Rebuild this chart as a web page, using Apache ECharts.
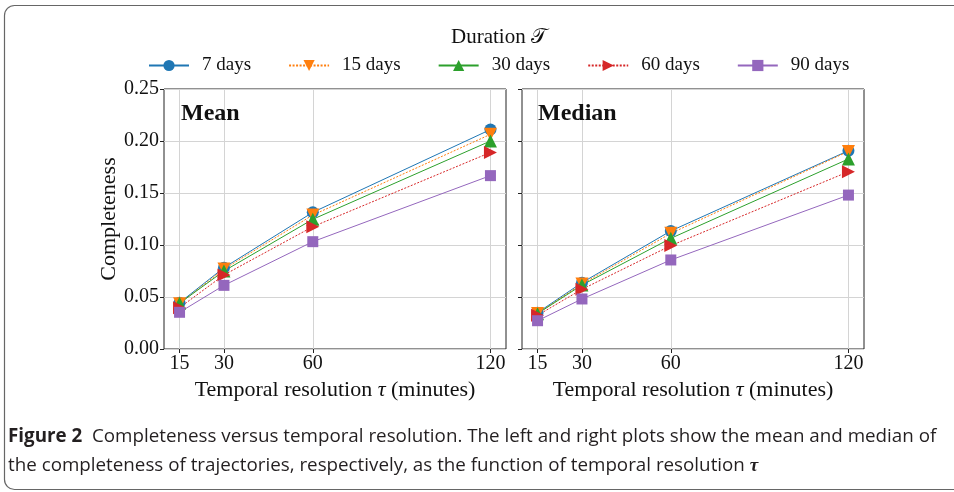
<!DOCTYPE html>
<html lang="en">
<head>
  <meta charset="UTF-8">
  <title>Completeness vs temporal resolution</title>
  <script src="https://cdn.jsdelivr.net/npm/echarts@6/dist/echarts.min.js"></script>
  <style>
    html, body { margin: 0; padding: 0; background: #fff; }
    #chart { width: 954px; height: 492px; }
  </style>
</head>
<body>
<div id="chart"></div>
<script>
  // x values (minutes) and legend names
  const tau = [15, 30, 60, 120];
  const durations = ['7 days', '15 days', '30 days', '60 days', '90 days'];

  // mean completeness, one array per duration
  const mean7 = [0.0445, 0.0782, 0.1314, 0.2110];
  const mean15 = [0.0436, 0.0769, 0.1288, 0.2064];
  const mean30 = [0.0440, 0.0750, 0.1247, 0.2000];
  const mean60 = [0.0397, 0.0712, 0.1176, 0.1890];
  const mean90 = [0.0353, 0.0612, 0.1032, 0.1667];

  // median completeness
  const median7 = [0.0349, 0.0638, 0.1135, 0.1907];
  const median15 = [0.0342, 0.0625, 0.1112, 0.1900];
  const median30 = [0.0340, 0.0615, 0.1064, 0.1827];
  const median60 = [0.0324, 0.0574, 0.0994, 0.1705];
  const median90 = [0.0272, 0.0481, 0.0856, 0.1480];

  const serif = '"Liberation Serif", "DejaVu Serif", serif';
  const sans = '"Open Sans", "Noto Sans", sans-serif';
  const colors = ['#1f77b4', '#ff7f0e', '#2ca02c', '#d62728', '#9467bd'];
  const symbols = ['circle', 'triangle', 'triangle', 'triangle', 'rect'];
  const rotates = [0, 180, 0, -90, 0];
  const lineTypes = ['solid', [2, 1.5], 'solid', [2, 1.5], 'solid'];

  const meanData = [mean7, mean15, mean30, mean60, mean90];
  const medianData = [median7, median15, median30, median60, median90];

  function makeSeries(arr, gi) {
    return arr.map((vals, i) => ({
      name: durations[i],
      type: 'line',
      xAxisIndex: gi,
      yAxisIndex: gi,
      data: tau.map((t, k) => [t, vals[k]]),
      symbol: symbols[i],
      symbolSize: i === 0 ? 12 : (i === 4 ? 11 : 13),
      symbolRotate: rotates[i],
      showAllSymbol: true,
      itemStyle: { color: colors[i] },
      lineStyle: { color: colors[i], width: 1, type: lineTypes[i] },
      emphasis: { disabled: true },
      animation: false
    }));
  }

  function xAxisOf(gi) {
    return {
      type: 'value',
      gridIndex: gi,
      min: 9.75,
      max: 125.25,
      name: 'Temporal resolution {i|τ} (minutes)',
      nameLocation: 'middle',
      nameGap: 24,
      nameTextStyle: {
        fontFamily: serif, fontSize: 22, color: '#111',
        rich: { i: { fontFamily: serif, fontStyle: 'italic', fontSize: 22, color: '#111' } }
      },
      axisLine: { show: false },
      axisTick: { show: true, customValues: tau, length: 4, lineStyle: { color: '#222' } },
      axisLabel: { customValues: tau, fontFamily: serif, fontSize: 20, color: '#111', margin: 5 },
      splitLine: { show: true, lineStyle: { color: '#d4d4d4', width: 1 } }
    };
  }

  function yAxisOf(gi) {
    return {
      type: 'value',
      gridIndex: gi,
      min: 0,
      max: 0.25,
      interval: 0.05,
      name: gi === 0 ? 'Completeness' : '',
      nameLocation: 'middle',
      nameGap: 37,
      nameTextStyle: { fontFamily: serif, fontSize: 22, color: '#111' },
      axisLine: { show: false },
      axisTick: { show: true, length: 4, lineStyle: { color: '#222' } },
      axisLabel: {
        show: gi === 0,
        fontFamily: serif, fontSize: 20, color: '#111', margin: 5,
        formatter: v => v.toFixed(2)
      },
      splitLine: { show: true, lineStyle: { color: '#d4d4d4', width: 1 } }
    };
  }

  const chart = echarts.init(document.getElementById('chart'));
  chart.setOption({
    animation: false,
    grid: [
      { left: 164, top: 89, width: 342, height: 260, show: true, borderColor: '#222', borderWidth: 1, backgroundColor: 'transparent' },
      { left: 522, top: 89, width: 342, height: 260, show: true, borderColor: '#222', borderWidth: 1, backgroundColor: 'transparent' }
    ],
    title: [
      { text: 'Mean', left: 181, top: 102, padding: 0, textStyle: { fontFamily: serif, fontWeight: 'bold', fontSize: 24, color: '#111' } },
      { text: 'Median', left: 538, top: 102, padding: 0, textStyle: { fontFamily: serif, fontWeight: 'bold', fontSize: 24, color: '#111' } }
    ],
    legend: {
      data: durations,
      left: 148,
      top: 56,
      padding: 0,
      itemWidth: 40,
      itemHeight: 14,
      itemGap: 37,
      textStyle: { fontFamily: serif, fontSize: 19, color: '#111', padding: [0, 0, 0, 8] }
    },
    xAxis: [xAxisOf(0), xAxisOf(1)],
    yAxis: [yAxisOf(0), yAxisOf(1)],
    series: makeSeries(meanData, 0).concat(makeSeries(medianData, 1)),
    graphic: [
      {
        type: 'rect',
        silent: true,
        shape: { x: 4.5, y: 5.5, width: 1000, height: 484, r: 10 },
        style: { fill: 'none', stroke: '#666', lineWidth: 1.2 }
      },
      {
        type: 'text',
        x: 499, y: 37,
        style: {
          text: 'Duration 𝒯',
          font: '21px ' + serif,
          fill: '#111',
          align: 'center',
          verticalAlign: 'middle'
        }
      },
      {
        type: 'text',
        x: 8, y: 437,
        style: {
          text: '{b|Figure 2}  Completeness versus temporal resolution. The left and right plots show the mean and median of',
          font: '18.8px ' + sans,
          fill: '#231f20',
          verticalAlign: 'middle',
          rich: { b: { fontWeight: 'bold', fontSize: 18.8, fontFamily: sans, fill: '#231f20' } }
        }
      },
      {
        type: 'text',
        x: 8, y: 466,
        style: {
          text: 'the completeness of trajectories, respectively, as the function of temporal resolution {t|τ}',
          font: '18.8px ' + sans,
          fill: '#231f20',
          verticalAlign: 'middle',
          rich: { t: { fontWeight: 'bold', fontStyle: 'italic', fontSize: 19, fontFamily: serif, fill: '#231f20' } }
        }
      }
    ]
  });
</script>
</body>
</html>
